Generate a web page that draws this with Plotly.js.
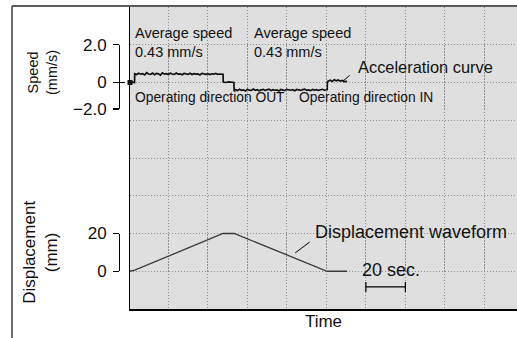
<!DOCTYPE html>
<html><head><meta charset="utf-8">
<script src="https://cdn.plot.ly/plotly-3.0.1.min.js"></script>
<style>html,body{margin:0;padding:0;background:#fff}#chart{width:517px;height:338px}</style>
</head><body><div id="chart"></div>
<script>
// ---- data (time in s, speed in mm/s, displacement in mm) ----
const speedTime = [
  0.6, 1.5, 2.9, 3.0,
  4, 5, 6, 7, 8, 9, 10, 11, 12, 13,
  14, 15, 16, 17, 18, 19, 20, 21, 22, 23,
  24, 25, 26, 27, 28, 29, 30, 31, 32, 33,
  34, 35, 36, 37, 38, 39, 40, 41, 42, 43,
  44, 45, 46, 47, 47.7,
  47.8, 49, 50.5, 52, 53.2,
  53.3, 54, 55, 56, 57, 58, 59, 60, 61, 62,
  63, 64, 65, 66, 67, 68, 69, 70, 71, 72,
  73, 74, 75, 76, 77, 78, 79, 80, 81, 82,
  83, 84, 85, 86, 87, 88, 89, 90, 91, 92,
  93, 94, 95, 96, 97, 98, 99, 100, 100.4,
  100.5, 101, 102, 103, 104, 105, 106, 107, 108, 109, 110, 110.5
];
const speedValue = [
  0.0, 0.02, 0.0, 0.46,
  0.42, 0.49, 0.44, 0.47, 0.40, 0.52, 0.45, 0.43, 0.50, 0.41,
  0.48, 0.46, 0.39, 0.51, 0.44, 0.47, 0.42, 0.49, 0.45, 0.43,
  0.50, 0.44, 0.46, 0.41, 0.48, 0.45, 0.43, 0.49, 0.42, 0.47,
  0.44, 0.46, 0.40, 0.48, 0.45, 0.43, 0.47, 0.42, 0.46, 0.44,
  0.48, 0.43, 0.45, 0.44, 0.44,
  0.02, 0.0, 0.03, 0.01, 0.0,
  -0.40, -0.38, -0.43, -0.36, -0.41, -0.39, -0.45, -0.37, -0.40, -0.42,
  -0.35, -0.41, -0.38, -0.44, -0.39, -0.37, -0.42, -0.40, -0.36, -0.43,
  -0.38, -0.41, -0.39, -0.45, -0.37, -0.40, -0.42, -0.36, -0.39, -0.41,
  -0.38, -0.44, -0.37, -0.40, -0.42, -0.38, -0.35, -0.41, -0.39, -0.43,
  -0.37, -0.40, -0.38, -0.42, -0.39, -0.36, -0.41, -0.39, -0.39,
  0.05, 0.08, 0.12, 0.06, 0.15, 0.09, 0.13, 0.07, 0.11, 0.05, 0.08, 0.06
];
const dispTime = [0.6, 3, 47.7, 53.3, 100.4, 110.5];
const dispValue = [0, 0.6, 20, 20, 0, 0];

const speedTickVals = [2, 0, -1.4];
const speedTickText = ['2.0', '0', '\u22122.0'];
const dispTickVals = [0, 20];
const dispTickText = ['0', '20'];
const scaleBarSec = [120, 140];

// ---- geometry helpers ----
const W = 517, H = 338, ML = 100, MT = 7, MB = 29;
const PW = W - ML, PH = H - MT - MB;
const px2paperX = p => (p - ML) / PW;
const px2paperY = p => (H - MB - p) / PH;
const speedRange = [-12, 4];
const dispRange = [-20, 140];
const dom = (lo, hi, r) => [(lo - r[0]) / (r[1] - r[0]), (hi - r[0]) / (r[1] - r[0])];
const axisPos = px2paperX(119);
const FONT = 'Liberation Sans, Arial, Helvetica, sans-serif';

const grid = {showgrid: true, gridcolor: '#8f8f8f', griddash: '1px,2px', gridwidth: 1};

const traces = [
  {x: speedTime, y: speedValue, type: 'scatter', mode: 'lines',
   line: {color: '#111', width: 1.7}, xaxis: 'x', yaxis: 'y', hoverinfo: 'skip'},
  {x: [speedTime[0]], y: [speedValue[0]], type: 'scatter', mode: 'markers',
   marker: {symbol: 'square', size: 5, color: '#111'}, cliponaxis: false,
   xaxis: 'x', yaxis: 'y', hoverinfo: 'skip'},
  {x: dispTime, y: dispValue, type: 'scatter', mode: 'lines',
   line: {color: '#3a3a3a', width: 1.3}, xaxis: 'x', yaxis: 'y2', hoverinfo: 'skip'},
  {x: [], y: [], xaxis: 'x', yaxis: 'y3', type: 'scatter', hoverinfo: 'skip'},
  {x: [], y: [], xaxis: 'x', yaxis: 'y4', type: 'scatter', hoverinfo: 'skip'},
  {x: [], y: [], xaxis: 'x', yaxis: 'y5', type: 'scatter', hoverinfo: 'skip'},
  {x: [], y: [], xaxis: 'x', yaxis: 'y6', type: 'scatter', hoverinfo: 'skip'}
];

const beam = {
  anchor: 'free', position: axisPos, side: 'left',
  showline: true, linecolor: '#000', linewidth: 1.2,
  ticks: 'outside', ticklen: 6, tickwidth: 1.2, tickcolor: '#000',
  tickmode: 'array', showgrid: false, zeroline: false,
  tickfont: {size: 17, color: '#111'}, ticklabelstandoff: 3
};
const beamInner = {
  anchor: 'free', position: axisPos, side: 'left',
  showline: false, ticks: 'inside', ticklen: 5, tickwidth: 1.2, tickcolor: '#000',
  tickmode: 'array', showticklabels: false, showgrid: false, zeroline: false
};

const layout = {
  width: W, height: H,
  margin: {l: ML, r: 0, t: MT, b: MB, pad: 0},
  paper_bgcolor: '#ffffff', plot_bgcolor: 'rgba(0,0,0,0)',
  font: {family: FONT, color: '#111', size: 14},
  showlegend: false,
  xaxis: Object.assign({domain: [px2paperX(130), 1], range: [0.6, 196.5],
    dtick: 20, tick0: 0, showticklabels: false, ticks: '', zeroline: false,
    showline: true, linecolor: '#000', linewidth: 1.5,
    title: {text: 'Time', font: {size: 17}, standoff: 5}}, grid),
  yaxis: Object.assign({domain: [0, 1], range: speedRange, dtick: 2, tick0: 0,
    showticklabels: false, ticks: '', zeroline: false, anchor: 'x',
    showline: true, linecolor: '#000', linewidth: 1.5}, grid),
  yaxis2: {overlaying: 'y', range: dispRange, visible: false},
  yaxis3: Object.assign({}, beam, {
    domain: dom(speedTickVals[2], speedTickVals[0], speedRange),
    range: [speedTickVals[2], speedTickVals[0]],
    tickvals: speedTickVals, ticktext: speedTickText}),
  yaxis4: Object.assign({}, beam, {
    domain: dom(dispTickVals[0], dispTickVals[1], dispRange),
    range: [dispTickVals[0], dispTickVals[1]],
    tickvals: dispTickVals, ticktext: dispTickText,
    title: {text: 'Displacement<br>(mm)', font: {size: 17}, standoff: 24}}),
  yaxis5: Object.assign({}, beamInner, {overlaying: 'y3',
    range: [speedTickVals[2], speedTickVals[0]], tickvals: speedTickVals}),
  yaxis6: Object.assign({}, beamInner, {overlaying: 'y4',
    range: [dispTickVals[0], dispTickVals[1]], tickvals: dispTickVals}),
  annotations: [
    {xref: 'paper', yref: 'paper', x: px2paperX(42), y: px2paperY(73),
     xanchor: 'center', yanchor: 'middle', textangle: -90,
     text: 'Speed<br>(mm/s)', showarrow: false, font: {size: 14.5}},
    {xref: 'x', yref: 'y', x: 2.1, y: 2.12, xanchor: 'left', yanchor: 'middle', align: 'left',
     text: 'Average speed<br>0.43 mm/s', showarrow: false, font: {size: 14.5}},
    {xref: 'x', yref: 'y', x: 62.4, y: 2.12, xanchor: 'left', yanchor: 'middle', align: 'left',
     text: 'Average speed<br>0.43 mm/s', showarrow: false, font: {size: 14.5}},
    {xref: 'x', yref: 'y', x: 2.1, y: -0.77, xanchor: 'left', yanchor: 'middle',
     text: 'Operating direction OUT', showarrow: false, font: {size: 13.8}},
    {xref: 'x', yref: 'y', x: 85.2, y: -0.77, xanchor: 'left', yanchor: 'middle',
     text: 'Operating direction IN', showarrow: false, font: {size: 13.8}},
    {xref: 'x', yref: 'y', x: 115.0, y: 0.82, xanchor: 'left', yanchor: 'middle',
     text: 'Acceleration curve', showarrow: false, font: {size: 16.4}},
    {xref: 'x', yref: 'y', x: 108.5, y: 0.08, text: '', showarrow: true,
     arrowhead: 0, arrowwidth: 1, arrowcolor: '#000', ax: 8, ay: -7, standoff: 0},
    {xref: 'x', yref: 'y2', x: 93.2, y: 20.8, xanchor: 'left', yanchor: 'middle',
     text: 'Displacement waveform', showarrow: false, font: {size: 18}},
    {xref: 'x', yref: 'y2', x: 84.2, y: 9.7, text: '', showarrow: true,
     arrowhead: 0, arrowwidth: 1, arrowcolor: '#000', ax: 16, ay: -12, standoff: 0},
    {xref: 'x', yref: 'y2', x: 117, y: 0.7, xanchor: 'left', yanchor: 'middle',
     text: '20 sec.', showarrow: false, font: {size: 18}}
  ],
  shapes: [
    {type: 'rect', xref: 'paper', yref: 'paper', layer: 'below',
     x0: px2paperX(130), x1: 1, y0: 0, y1: 1,
     fillcolor: '#dfdfdf', line: {width: 0}},
    {type: 'line', xref: 'paper', yref: 'paper', x0: px2paperX(12), x1: px2paperX(12),
     y0: px2paperY(6), y1: px2paperY(340), line: {color: '#6e6e6e', width: 2}},
    {type: 'line', xref: 'paper', yref: 'paper', x0: px2paperX(12), x1: 1.01,
     y0: px2paperY(6), y1: px2paperY(6), line: {color: '#5a5a5a', width: 2}},
    {type: 'line', xref: 'x', yref: 'y2', x0: scaleBarSec[0], x1: scaleBarSec[1],
     y0: -8.3, y1: -8.3, line: {color: '#000', width: 1.2}},
    {type: 'line', xref: 'x', yref: 'y2', x0: scaleBarSec[0], x1: scaleBarSec[0],
     y0: -5.7, y1: -11, line: {color: '#000', width: 1.2}},
    {type: 'line', xref: 'x', yref: 'y2', x0: scaleBarSec[1], x1: scaleBarSec[1],
     y0: -5.7, y1: -11, line: {color: '#000', width: 1.2}}
  ]
};

Plotly.newPlot('chart', traces, layout, {staticPlot: true, displayModeBar: false});
</script>
</body></html>
